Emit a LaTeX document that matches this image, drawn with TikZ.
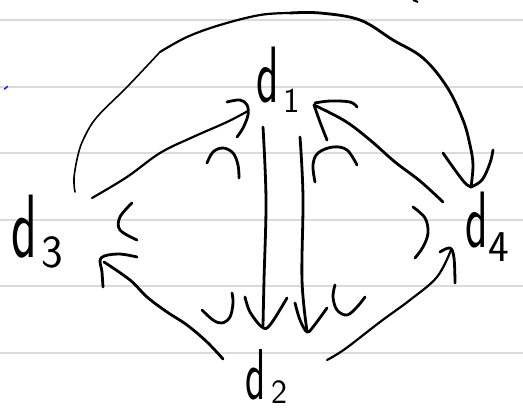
\documentclass[tikz,border=0pt]{standalone}
\usepackage{graphicx}
\definecolor{paperline}{rgb}{0.86,0.86,0.86}
\definecolor{penblue}{rgb}{0.1,0.1,0.95}
\newcommand{\myd}[2]{\scalebox{#2}[1]{\fontsize{#1}{#1}\selectfont d}}
\newcommand{\mysb}[3]{\raisebox{#2}{\fontsize{#1}{#1}\selectfont #3}}
\begin{document}
\begin{tikzpicture}[x=1pt,y=-1pt,
  ink/.style={line width=2.8pt, line cap=round, line join=round},
  midink/.style={line width=2.2pt, line cap=round, line join=round},
  thinink/.style={line width=1.6pt, line cap=round, line join=round},
  lab/.style={inner sep=0pt, outer sep=0pt, anchor=base west, font=\sffamily},
  ]
\useasboundingbox (0,0) rectangle (523,414);
\fill[white] (0,0) rectangle (523,414);
\foreach \yy in {20,87,153,220,286,353} \draw[paperline, line width=1.4pt] (0,\yy) -- (523,\yy);
\draw[penblue, line width=1.5pt, line cap=round] (4.5,89) -- (7.5,86.5);
\draw[line width=2pt] (413,0) -- (418,2);

% labels
\node[lab] (d1) at (256,103) {\myd{80}{0.58}\hspace{5pt}\mysb{35}{-10pt}{1}};
\node[lab] (d2) at (245,400) {\myd{72}{0.58}\hspace{6pt}\mysb{34}{-4pt}{2}};
\node[lab] (d3) at (11,258) {\myd{90}{0.59}\hspace{5pt}\mysb{46}{-10pt}{3}};
\node[lab] (d4) at (465,248) {\myd{80}{0.58}\hspace{1pt}\mysb{44}{-14pt}{4}};

% connector end points
\coordinate (a3s) at (75,192);   \coordinate (a4t) at (471,187);
\coordinate (b3s) at (92,198);   \coordinate (b1t) at (248,111);
\coordinate (c4s) at (443,202);  \coordinate (c1t) at (314,105);
\coordinate (v1s) at (263,127);  \coordinate (v2t) at (263,326);
\coordinate (w1s) at (300,137);  \coordinate (w2t) at (307,331);
\coordinate (e2s) at (223,359);  \coordinate (e3t) at (104,262);
\coordinate (f2s) at (327,360);  \coordinate (f4t) at (451,250);

% big arc d3 -> d4
\draw[thinink] plot[smooth, tension=0.6] coordinates {(a3s) (74,178) (78,155) (84,138) (97,117) (127,87) (160,52)};
\draw[midink] plot[smooth, tension=0.6] coordinates {(160,52) (187,37) (220,25) (260,15) (290,13)};
\draw[ink] plot[smooth, tension=0.6] coordinates {(290,13) (320,13) (360,20) (393,40) (423,58) (447,87) (463,120) (470,145) (473,165) (a4t)};
\draw[ink] plot[smooth, tension=0.6] coordinates {(443,153) (455,170) (465,183) (a4t)};
\draw[ink] plot[smooth, tension=0.6] coordinates {(493,150) (490,163) (482,180) (a4t)};

% d3 -> d1
\draw[midink] plot[smooth, tension=0.6] coordinates {(b3s) (127,177) (160,153) (193,137) (227,122) (b1t)};
\draw[ink] plot[smooth, tension=0.6] coordinates {(227,102) (240,100) (247,105) (248,115) (243,128) (237,137)};

% d4 -> d1
\draw[ink] plot[smooth, tension=0.6] coordinates {(c4s) (420,181) (395,162) (370,140) (345,121) (c1t)};
\draw[ink] plot[smooth, tension=0.6] coordinates {(357,107) (350,102) (330,101) (315,103)};
\draw[ink] plot[smooth, tension=0.6] coordinates {(c1t) (320,122) (327,140)};

% d1 -> d2 (two vertical arrows)
\draw[ink] plot[smooth, tension=0.6] coordinates {(v1s) (266,200) (264,280) (v2t)};
\draw[ink] plot[smooth, tension=0.6] coordinates {(245,297) (250,312) (262,327) (270,325) (287,298)};
\draw[ink] plot[smooth, tension=0.6] coordinates {(w1s) (303,197) (302,280) (w2t)};
\draw[ink] plot[smooth, tension=0.6] coordinates {(295,303) (300,320) (307,332) (313,327) (327,308)};

% d2 -> d3
\draw[ink] plot[smooth, tension=0.6] coordinates {(e2s) (207,342) (187,325) (167,312) (147,297) (130,280) (e3t)};
\draw[ink] plot[smooth, tension=0.6] coordinates {(137,257) (118,254) (101,258) (102,272) (103,287)};

% d2 -> d4
\draw[midink] plot[smooth, tension=0.6] coordinates {(f2s) (345,349) (380,322) (410,300) (437,277) (f4t)};
\draw[ink] plot[smooth, tension=0.6] coordinates {(440,252) (450,248) (454,258) (455,283)};

% small arcs
\draw[ink] plot[smooth, tension=0.6] coordinates {(207,163) (213,152) (223,148) (233,153) (238,165) (239,178)};
\draw[ink] plot[smooth, tension=0.6] coordinates {(315,182) (313,165) (318,153) (333,147) (347,150) (357,165)};
\draw[ink] plot[smooth, tension=0.6] coordinates {(132,203) (120,217) (120,230) (137,240)};
\draw[ink] plot[smooth, tension=0.6] coordinates {(413,207) (425,218) (428,233) (423,247) (415,258)};
\draw[ink] plot[smooth, tension=0.6] coordinates {(202,310) (213,320) (222,323) (230,317) (233,303) (232,293)};
\draw[ink] plot[smooth, tension=0.6] coordinates {(335,285) (333,297) (337,310) (347,315) (357,307) (365,297)};
\end{tikzpicture}
\end{document}
